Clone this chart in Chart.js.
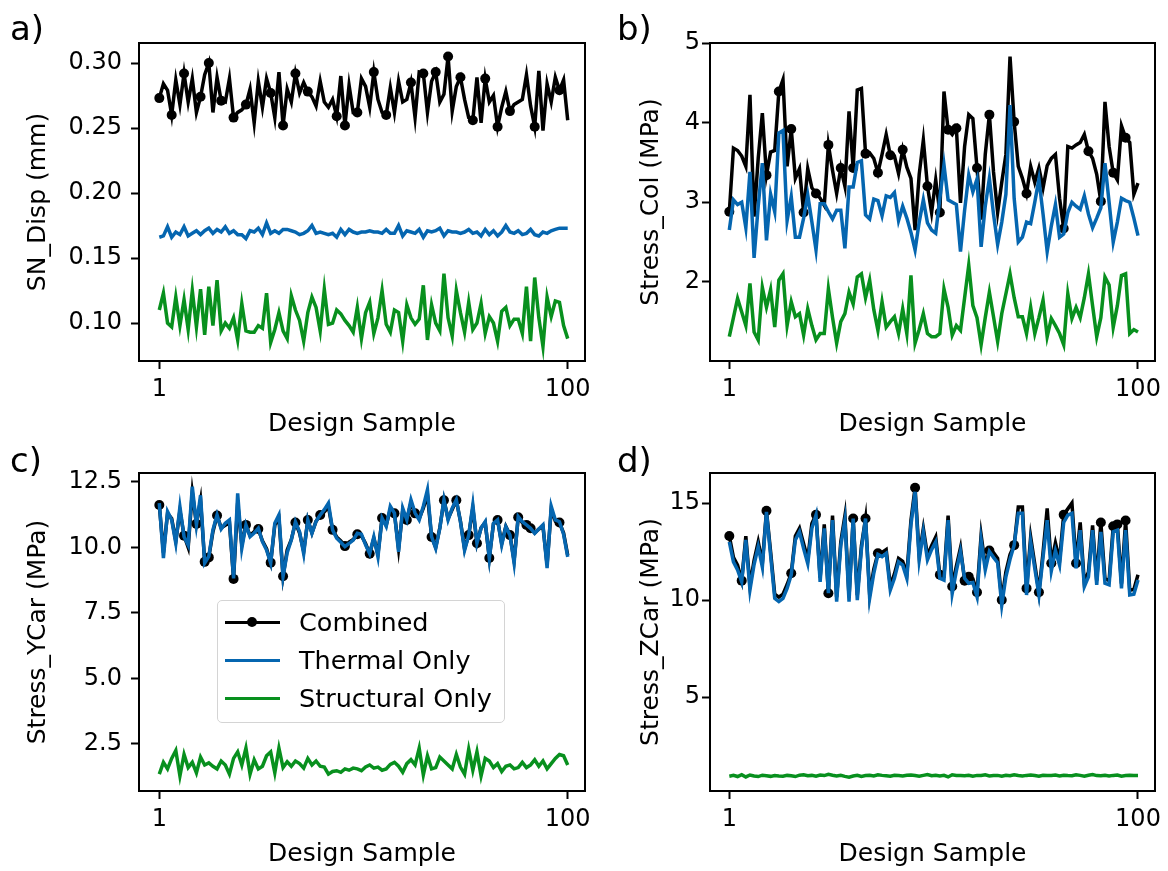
<!DOCTYPE html>
<html>
<head>
<meta charset="utf-8">
<script src="https://cdn.jsdelivr.net/npm/chart.js@4.4.1/dist/chart.umd.min.js"></script>
<style>
  body { margin: 0; background: #fff; font-family: "DejaVu Sans", sans-serif; }
  #wrap { position: relative; width: 1168px; height: 871px; overflow: hidden; background: #fff; }
  canvas { position: absolute; }
  .tag { position: absolute; font-size: 34px; line-height: 40px; color: #000; }
  #legend {
    position: absolute; left: 217px; top: 600px; width: 288px; height: 123px;
    box-sizing: border-box; border: 1.5px solid #d4d4d4; border-radius: 5px;
    background: rgba(255,255,255,0.85); padding-top: 2px;
  }
  #legend .item { position: relative; height: 38px; line-height: 38px; font-size: 25.5px; padding-left: 81px; white-space: nowrap; color: #000; }
  #legend .swatch { position: absolute; left: 6.5px; top: 17.5px; width: 55px; height: 3.5px; }
  #legend .swatch i { position: absolute; left: 22.5px; top: -3.25px; width: 10px; height: 10px; border-radius: 50%; background: #000; }
</style>
</head>
<body>
<div id="wrap">
  <canvas id="chartA" width="600" height="440" style="left:0px;top:0px"></canvas>
  <canvas id="chartB" width="578" height="440" style="left:590px;top:0px"></canvas>
  <canvas id="chartC" width="600" height="431" style="left:0px;top:440px"></canvas>
  <canvas id="chartD" width="578" height="431" style="left:590px;top:440px"></canvas>
  <div class="tag" style="left:10px;top:8px">a)</div>
  <div class="tag" style="left:617px;top:8px">b)</div>
  <div class="tag" style="left:10px;top:440px">c)</div>
  <div class="tag" style="left:617px;top:440px">d)</div>
  <div id="legend">
    <div class="item"><span class="swatch" style="background:#000"><i></i></span>Combined</div>
    <div class="item"><span class="swatch" style="background:#0566b0"></span>Thermal Only</div>
    <div class="item"><span class="swatch" style="background:#08901e"></span>Structural Only</div>
  </div>
</div>
<script>
// x ticks shown on every panel
const sampleTicks = [1, 100];

// a) SN_Disp (mm)
const dispCombined = [
  0.273,0.284,0.279,0.260,0.287,0.268,0.292,0.270,0.288,0.262,
  0.274,0.291,0.300,0.262,0.289,0.271,0.270,0.288,0.258,0.262,
  0.264,0.268,0.280,0.254,0.286,0.266,0.288,0.277,0.258,0.293,
  0.252,0.280,0.270,0.292,0.277,0.285,0.278,0.274,0.267,0.286,
  0.270,0.266,0.272,0.259,0.290,0.252,0.283,0.262,0.262,0.288,
  0.282,0.266,0.293,0.272,0.262,0.260,0.281,0.262,0.286,0.270,
  0.272,0.285,0.258,0.293,0.292,0.262,0.286,0.293,0.270,0.276,
  0.305,0.263,0.282,0.289,0.272,0.258,0.256,0.289,0.254,0.288,
  0.270,0.275,0.251,0.266,0.278,0.263,0.268,0.270,0.272,0.291,
  0.267,0.251,0.294,0.248,0.284,0.270,0.289,0.279,0.287,0.256
];
const dispThermal = [
  0.166,0.167,0.174,0.166,0.170,0.168,0.174,0.167,0.169,0.171,
  0.168,0.171,0.173,0.169,0.172,0.170,0.174,0.169,0.171,0.168,
  0.168,0.165,0.171,0.170,0.173,0.168,0.177,0.169,0.171,0.169,
  0.172,0.172,0.171,0.170,0.168,0.169,0.171,0.175,0.169,0.170,
  0.169,0.168,0.169,0.166,0.172,0.168,0.172,0.170,0.169,0.170,
  0.170,0.171,0.170,0.170,0.169,0.172,0.169,0.169,0.175,0.167,
  0.171,0.170,0.169,0.172,0.166,0.171,0.170,0.171,0.173,0.167,
  0.171,0.170,0.170,0.169,0.170,0.172,0.169,0.170,0.167,0.172,
  0.168,0.171,0.167,0.170,0.175,0.170,0.169,0.171,0.168,0.169,
  0.172,0.168,0.167,0.170,0.169,0.171,0.172,0.173,0.173,0.173
];
const dispStructural = [
  0.110,0.123,0.100,0.097,0.120,0.098,0.118,0.095,0.125,0.097,
  0.126,0.091,0.128,0.098,0.133,0.094,0.100,0.096,0.104,0.087,
  0.115,0.094,0.093,0.093,0.098,0.096,0.123,0.085,0.095,0.108,
  0.094,0.088,0.121,0.110,0.102,0.086,0.108,0.120,0.112,0.094,
  0.126,0.099,0.100,0.110,0.107,0.102,0.098,0.093,0.112,0.088,
  0.108,0.116,0.092,0.104,0.125,0.099,0.093,0.110,0.108,0.086,
  0.114,0.104,0.099,0.103,0.129,0.087,0.114,0.100,0.094,0.138,
  0.104,0.090,0.125,0.108,0.093,0.116,0.095,0.100,0.115,0.092,
  0.105,0.100,0.086,0.109,0.112,0.098,0.103,0.103,0.092,0.128,
  0.086,0.135,0.104,0.082,0.120,0.105,0.117,0.116,0.098,0.088
];
const dispMarked = [1,4,7,11,13,16,19,22,28,31,34,37,44,46,49,53,56,62,65,68,71,74,77,80,83,86,92,98];
const dispTicks = [0.10, 0.15, 0.20, 0.25, 0.30];

// b) Stress_Col (MPa)
const colCombined = [
  2.88,3.68,3.65,3.58,3.45,4.35,2.82,3.55,4.12,3.34,
  3.63,3.65,4.39,4.54,3.45,3.92,3.30,3.42,2.87,3.42,
  3.18,3.11,3.05,2.96,3.72,3.40,3.11,3.43,3.20,4.14,
  3.43,4.41,4.43,3.61,3.62,3.55,3.37,3.60,3.85,3.59,
  3.58,3.36,3.66,3.44,3.30,2.65,3.35,3.78,3.20,2.87,
  3.28,2.87,4.39,3.91,3.85,3.93,2.99,3.70,4.10,4.05,
  3.43,2.78,3.60,4.10,3.38,2.87,3.25,3.60,4.83,4.01,
  3.45,3.30,3.11,3.45,3.25,3.43,3.18,3.46,3.55,3.60,
  3.05,2.67,3.70,3.68,3.72,3.75,3.85,3.64,3.55,3.35,
  3.01,4.26,3.70,3.37,3.28,3.96,3.81,3.75,3.10,3.24
];
const colThermal = [
  2.65,3.03,2.97,3.00,2.68,3.38,2.30,2.95,3.49,2.52,
  3.10,2.88,3.87,3.90,2.77,3.07,2.56,2.56,2.80,3.09,
  2.75,2.40,2.98,2.98,2.88,2.79,2.90,2.90,2.42,3.19,
  3.19,3.50,3.52,2.84,2.79,3.04,3.02,2.83,3.08,3.06,
  3.12,2.77,2.95,2.80,2.62,2.40,2.75,3.03,2.74,2.65,
  2.61,3.05,3.47,3.03,3.00,2.97,2.38,2.90,3.34,3.13,
  3.29,2.44,2.95,3.30,2.85,2.47,2.75,3.10,4.22,3.05,
  2.50,2.56,2.75,2.73,3.00,3.29,2.85,2.38,2.70,2.97,
  2.56,2.60,2.87,3.00,2.95,2.91,3.08,2.85,2.68,2.80,
  2.93,3.49,3.00,2.50,2.75,3.05,3.02,3.00,2.80,2.58
];
const colStructural = [
  1.31,1.55,1.79,1.62,1.45,1.98,1.37,1.27,1.93,1.68,
  1.90,1.43,2.02,2.10,1.45,1.75,1.56,1.60,1.33,1.66,
  1.45,1.27,1.35,1.35,1.91,1.55,1.23,1.50,1.60,1.87,
  1.72,2.06,2.10,1.80,2.02,1.65,1.39,1.75,1.43,1.50,
  1.56,1.35,1.66,1.35,2.08,1.23,1.40,1.60,1.35,1.31,
  1.31,1.35,1.91,1.68,1.33,1.45,1.39,1.80,2.21,1.70,
  1.55,1.21,1.55,1.87,1.56,1.25,1.60,1.85,2.10,1.80,
  1.56,1.56,1.35,1.68,1.35,1.55,1.77,1.31,1.54,1.45,
  1.35,1.21,1.85,1.54,1.68,1.55,1.80,2.10,1.70,1.31,
  1.55,2.06,1.96,1.43,1.70,2.08,2.10,1.35,1.40,1.37
];
const colMarked = [1,10,13,16,19,22,25,28,31,34,37,40,43,49,52,54,56,61,64,70,73,82,88,91,94,97];
const colTicks = [2, 3, 4, 5];

// c) Stress_YCar (MPa)
const ycarCombined = [
  11.62,9.80,11.30,11.10,10.25,11.40,10.45,10.00,12.10,10.90,
  11.80,9.45,9.62,10.60,11.22,10.75,10.85,10.95,8.80,11.70,
  10.10,10.86,10.45,10.60,10.70,10.25,9.95,9.42,10.85,11.10,
  8.90,9.90,10.30,10.95,10.55,9.85,11.05,10.55,11.00,11.24,
  11.35,11.55,10.67,10.40,10.25,10.05,10.20,10.30,10.50,10.45,
  10.15,9.76,10.35,9.75,11.12,10.85,11.45,11.30,9.95,11.40,
  11.05,11.70,11.30,11.10,11.50,12.00,10.40,10.00,10.75,11.80,
  11.10,11.45,11.80,11.00,9.95,10.47,11.50,10.16,10.75,10.95,
  9.60,10.90,11.05,10.15,10.80,10.47,9.50,11.15,10.95,10.86,
  10.73,10.55,10.70,10.80,9.35,11.45,11.00,10.95,10.55,9.70
];
const ycarThermal = [
  11.69,9.59,11.37,11.05,10.16,11.55,10.41,10.09,12.32,10.86,
  11.99,9.40,9.66,10.67,11.24,10.70,10.92,11.05,8.82,12.06,
  9.97,10.86,10.41,10.55,10.73,10.22,9.90,9.40,10.92,11.24,
  8.89,9.80,10.28,10.98,10.60,9.76,11.05,10.54,11.00,11.24,
  11.44,11.69,10.67,10.35,10.20,10.03,10.15,10.28,10.54,10.50,
  10.10,9.76,10.40,9.64,11.12,10.80,11.57,11.31,9.83,11.50,
  11.05,11.82,11.31,11.05,11.57,12.20,10.41,9.96,10.73,11.82,
  11.05,11.50,11.82,10.98,9.89,10.47,11.63,10.16,10.73,10.98,
  9.57,10.92,11.05,10.09,10.79,10.47,9.40,11.18,10.98,10.86,
  10.73,10.54,10.70,10.86,9.21,11.57,11.05,10.98,10.50,9.64
];
const ycarStructural = [
  1.35,1.80,1.55,1.95,2.25,1.28,2.10,1.60,1.80,1.40,
  2.00,1.70,1.78,1.65,1.55,1.85,1.70,1.35,1.95,2.20,
  1.70,2.34,1.35,1.90,1.55,1.65,2.05,2.20,1.40,2.34,
  1.60,1.82,1.65,1.85,1.75,1.58,1.95,1.70,1.85,1.65,
  1.62,1.35,1.45,1.48,1.42,1.55,1.50,1.58,1.55,1.48,
  1.62,1.70,1.58,1.62,1.50,1.55,1.72,1.80,1.65,1.42,
  1.75,1.90,1.70,2.34,1.32,2.05,1.55,1.60,2.00,1.85,
  1.70,1.55,2.10,1.62,1.35,2.30,1.50,2.20,1.28,1.95,
  1.85,1.60,1.75,1.45,1.65,1.70,1.55,1.60,1.80,1.60,
  1.70,1.90,1.65,1.85,1.55,1.75,1.95,2.10,2.05,1.70
];
const ycarMarked = [1,7,10,12,13,15,19,22,25,28,31,34,37,40,43,46,49,52,55,58,61,63,67,70,73,76,78,81,83,86,88,90,91,98];
const ycarTicks = [2.5, 5.0, 7.5, 10.0, 12.5];

// d) Stress_ZCar (MPa)
const zcarCombined = [
  13.30,12.20,11.80,11.00,13.30,10.75,12.05,13.00,11.90,14.60,
  12.50,10.30,10.15,10.30,10.80,11.38,13.30,13.70,12.90,12.10,
  13.95,14.40,11.15,13.90,10.35,14.35,10.15,13.00,14.35,10.15,
  14.20,10.25,12.80,14.20,10.30,11.60,12.41,12.45,12.60,10.75,
  11.35,12.15,12.00,11.35,14.10,15.79,12.30,13.70,12.30,12.80,
  13.25,11.30,11.25,14.35,10.70,11.75,12.70,11.00,11.20,11.10,
  10.40,13.35,11.80,12.55,12.45,12.15,10.00,11.45,12.35,12.83,
  14.80,14.80,10.60,13.25,11.85,10.40,12.45,14.73,11.90,12.95,
  12.05,14.40,14.70,15.00,11.90,14.00,10.90,11.45,13.85,11.00,
  14.00,11.10,11.00,13.80,13.90,10.85,14.10,10.50,10.55,11.30
];
const zcarThermal = [
  13.00,11.97,11.55,10.94,13.10,10.52,11.83,12.75,11.70,14.55,
  12.30,10.09,9.92,10.09,10.60,11.30,13.10,13.52,12.65,11.88,
  13.70,14.38,10.94,13.70,10.35,14.12,9.92,12.80,14.12,9.92,
  14.20,10.00,12.62,14.20,10.09,11.38,12.35,12.24,12.41,10.52,
  11.12,11.97,11.80,11.12,13.88,15.58,12.07,13.52,12.07,12.60,
  13.00,11.12,11.03,14.12,10.35,11.50,12.50,11.12,10.86,10.90,
  10.17,13.10,11.55,12.50,12.20,11.93,9.74,11.20,12.10,12.83,
  14.47,14.47,10.26,13.00,11.63,10.26,12.20,14.12,11.50,12.55,
  11.80,14.00,14.38,14.47,11.63,13.60,10.69,11.20,13.60,10.78,
  13.52,10.86,10.78,13.52,13.60,10.60,13.60,10.26,10.30,11.03
];
const zcarStructural = [
  0.92,0.96,0.90,1.00,0.88,0.98,0.93,0.90,0.97,0.94,
  0.91,0.95,0.93,0.92,0.96,0.94,0.90,0.97,0.99,0.94,
  0.96,0.92,0.98,0.95,1.02,0.97,0.93,0.96,0.91,0.87,
  0.93,0.96,0.90,0.95,0.97,0.93,0.99,0.96,0.94,0.92,
  0.97,0.95,0.93,0.97,0.98,0.95,0.92,0.96,1.00,0.94,
  0.97,0.93,0.96,0.88,0.99,0.96,0.95,0.94,0.97,0.92,
  0.96,0.95,0.99,0.93,0.95,0.96,0.92,0.97,0.94,0.99,
  0.95,0.93,0.96,0.98,0.95,0.92,0.97,0.96,0.95,0.98,
  0.93,0.97,0.95,0.94,0.99,0.96,0.92,0.97,1.00,0.95,
  0.94,0.97,0.93,0.96,0.98,0.92,0.95,0.97,0.96,0.96
];
const zcarMarked = [1,4,10,16,22,25,31,34,37,46,52,55,58,59,61,64,67,70,73,76,79,82,85,91,94,95,97];
const zcarTicks = [5, 10, 15];

const BLACK = "#000000";
const BLUE = "#0566b0";
const GREEN = "#08901e";

Chart.defaults.font.family = "'DejaVu Sans', sans-serif";
Chart.defaults.color = "#000";

// matplotlib style box around the plot area
const framePlugin = {
  id: "frame",
  afterDraw(chart) {
    const { ctx, chartArea: a } = chart;
    ctx.save();
    ctx.strokeStyle = "#000";
    ctx.lineWidth = 2;
    ctx.strokeRect(a.left, a.top, a.right - a.left, a.bottom - a.top);
    ctx.restore();
  }
};

function toPoints(vals) {
  return vals.map((v, i) => ({ x: i + 1, y: v }));
}

function makePanel(id, p) {
  const canvas = document.getElementById(id);
  const W = canvas.width, H = canvas.height;
  const area = p.area;

  new Chart(canvas, {
    type: "line",
    data: {
      datasets: [
        {
          label: "Combined",
          data: toPoints(p.combined),
          borderColor: BLACK,
          backgroundColor: BLACK,
          borderWidth: 3.5,
          pointRadius: p.combined.map((v, i) => p.marked.includes(i + 1) ? 5 : 0),
          pointBorderWidth: 0,
          pointBackgroundColor: BLACK,
          tension: 0,
          order: 3
        },
        {
          label: "Thermal Only",
          data: toPoints(p.thermal),
          borderColor: BLUE,
          borderWidth: 3.5,
          pointRadius: 0,
          tension: 0,
          order: 2
        },
        {
          label: "Structural Only",
          data: toPoints(p.structural),
          borderColor: GREEN,
          borderWidth: 3.5,
          pointRadius: 0,
          tension: 0,
          order: 1
        }
      ]
    },
    options: {
      responsive: false,
      animation: false,
      devicePixelRatio: 1,
      layout: { padding: { left: 0, top: area.top, right: W - area.right, bottom: 0 } },
      plugins: { legend: { display: false }, tooltip: { enabled: false } },
      scales: {
        x: {
          type: "linear",
          min: p.xMin,
          max: p.xMax,
          afterBuildTicks: s => { s.ticks = sampleTicks.map(v => ({ value: v })); },
          afterFit: s => { s.height = H - area.bottom; },
          ticks: { font: { size: 24 }, padding: 6, autoSkip: false, maxRotation: 0, callback: v => String(v) },
          grid: { drawOnChartArea: false, drawTicks: true, tickLength: 8, tickWidth: 2, tickColor: "#000" },
          border: { display: false },
          title: { display: true, text: "Design Sample", font: { size: 25 }, padding: { top: 0, bottom: p.xTitlePad } }
        },
        y: {
          min: p.yMin,
          max: p.yMax,
          afterBuildTicks: s => { s.ticks = p.yTicks.map(v => ({ value: v })); },
          afterFit: s => { s.width = area.left; },
          ticks: { font: { size: 24 }, padding: p.yTickPad, autoSkip: false, callback: v => v.toFixed(p.decimals) },
          grid: { drawOnChartArea: false, drawTicks: true, tickLength: 8, tickWidth: 2, tickColor: "#000" },
          border: { display: false },
          title: { display: true, text: p.yTitle, font: { size: 25 }, padding: { top: p.yTitlePad, bottom: 0 } }
        }
      }
    },
    plugins: [framePlugin]
  });
}

makePanel("chartA", {
  combined: dispCombined, thermal: dispThermal, structural: dispStructural, marked: dispMarked,
  yTicks: dispTicks, decimals: 2, yTitle: "SN_Disp (mm)",
  yMin: 0.0708, yMax: 0.3154, xMin: -3.92, xMax: 104.19,
  area: { left: 139, top: 43, right: 585, bottom: 361 },
  yTitlePad: 23, yTickPad: 9, xTitlePad: 1
});
makePanel("chartB", {
  combined: colCombined, thermal: colThermal, structural: colStructural, marked: colMarked,
  yTicks: colTicks, decimals: 0, yTitle: "Stress_Col (MPa)",
  yMin: 1.005, yMax: 5.0, xMin: -3.68, xMax: 104.12,
  area: { left: 120, top: 43, right: 565, bottom: 361 },
  yTitlePad: 46, yTickPad: 2, xTitlePad: 1
});
makePanel("chartC", {
  combined: ycarCombined, thermal: ycarThermal, structural: ycarStructural, marked: ycarMarked,
  yTicks: ycarTicks, decimals: 1, yTitle: "Stress_YCar (MPa)",
  yMin: 0.706, yMax: 12.84, xMin: -3.92, xMax: 104.19,
  area: { left: 139, top: 33, right: 585, bottom: 351 },
  yTitlePad: 23, yTickPad: 9, xTitlePad: 2
});
makePanel("chartD", {
  combined: zcarCombined, thermal: zcarThermal, structural: zcarStructural, marked: zcarMarked,
  yTicks: zcarTicks, decimals: 0, yTitle: "Stress_ZCar (MPa)",
  yMin: 0.155, yMax: 16.55, xMin: -3.68, xMax: 104.12,
  area: { left: 120, top: 33, right: 565, bottom: 351 },
  yTitlePad: 46, yTickPad: 2, xTitlePad: 2
});
</script>
</body>
</html>
